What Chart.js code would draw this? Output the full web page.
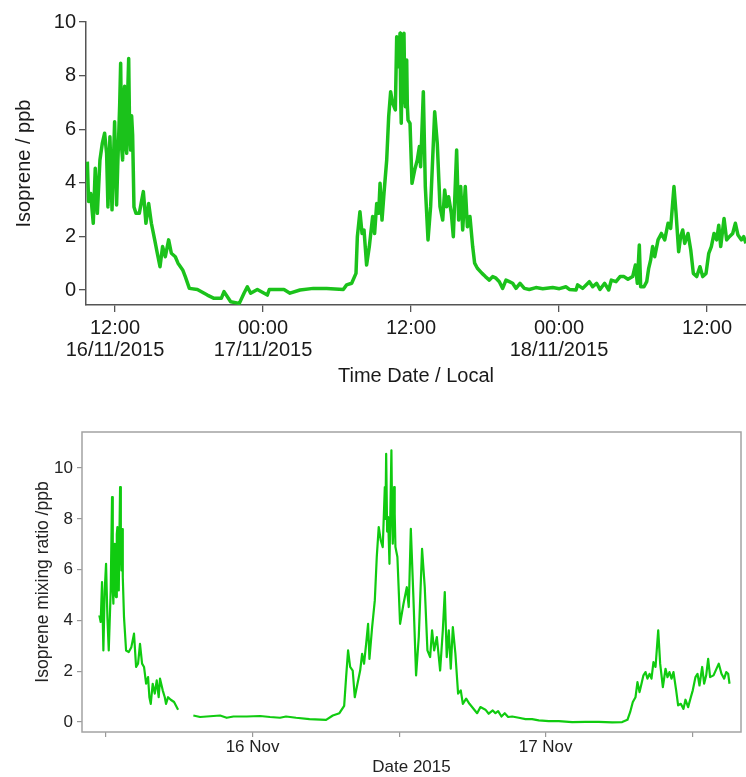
<!DOCTYPE html>
<html>
<head>
<meta charset="utf-8">
<script src="https://cdn.jsdelivr.net/npm/chart.js@4.4.1/dist/chart.umd.min.js"></script>
<style>
  body { margin: 0; background: #fff; }
  canvas { display: block; }
</style>
</head>
<body>
<canvas id="top-chart" width="746" height="390"></canvas>
<canvas id="bottom-chart" width="746" height="387"></canvas>
<script>
// Top panel: hours since 00:00 16/11/2015 (local) and isoprene in ppb
const topHours = [
  9.76, 9.86, 10.03, 10.24, 10.40, 10.57, 10.78, 10.97, 11.16, 11.32, 11.43, 11.59, 11.76, 11.97,
  12.13, 12.22, 12.30, 12.38, 12.46, 12.54, 12.62, 12.70, 12.78, 12.86, 12.95, 13.03, 13.11, 13.19,
  13.27, 13.35, 13.43, 13.54, 13.70, 13.97, 14.30, 14.51,
  14.73, 14.95, 15.22, 15.43, 15.65, 15.86, 16.08, 16.35, 16.57, 16.89, 17.11, 17.49, 17.70, 18.03,
  18.68, 19.49, 20.03, 20.62, 20.84, 21.38, 22.08, 22.46, 22.73, 23.00, 23.54, 24.35, 24.51, 25.70,
  26.19, 27.00, 28.08, 29.16, 30.51, 30.78, 31.19, 31.54, 31.65, 31.86, 32.03, 32.19, 32.40, 32.62,
  32.89, 33.05, 33.22, 33.38, 33.49, 33.65, 33.81, 34.03, 34.19, 34.35, 34.51, 34.73, 34.84, 35.00,
  35.11, 35.16, 35.21, 35.27, 35.32, 35.38, 35.43, 35.49, 35.54, 35.60, 35.65, 35.70, 35.76, 35.92,
  36.08, 36.30, 36.51, 36.68, 36.78, 37.00,
  37.16, 37.38, 37.59, 37.92, 38.13, 38.35, 38.57, 38.73, 38.89, 39.05, 39.27, 39.43, 39.70, 39.86,
  40.03, 40.19, 40.40, 40.57, 40.78, 41.00, 41.16, 41.38,
  41.76, 42.03, 42.35, 42.62, 42.89, 43.16, 43.43, 43.70, 43.97, 44.24, 44.51, 44.84, 45.19, 45.59,
  46.13, 46.68, 47.49, 48.03, 48.57, 48.84, 49.38, 49.51, 49.92, 50.46, 50.73, 51.05, 51.32, 51.70,
  52.03, 52.24, 52.62, 52.95, 53.27, 53.59, 53.97, 54.19, 54.35, 54.51, 54.62, 54.89, 55.11, 55.27,
  55.43, 55.59, 55.76, 56.03, 56.30, 56.57, 56.84, 57.05, 57.32, 57.49, 57.70, 57.86, 58.03, 58.19,
  58.46, 58.68, 58.89, 59.16, 59.43, 59.65, 59.92, 60.14, 60.35, 60.57, 60.78, 60.95, 61.11, 61.38,
  61.59, 61.81, 62.08, 62.30, 62.51, 62.78, 62.97, 63.16
];
const topPpb = [
  4.79, 3.3, 3.6, 2.49, 4.54, 2.86, 4.85, 5.47, 5.85, 5.1, 3.1, 5.72, 2.99, 6.28,
  3.17, 4.6, 5.72, 6.9, 8.46, 5.3, 4.85, 7.0, 7.6, 5.4, 5.1, 7.3, 8.64, 5.8,
  5.22, 6.5, 5.78, 3.1, 2.86, 2.86, 3.67, 2.49,
  3.23, 2.49, 1.87, 1.37, 0.87, 1.62, 1.24, 1.87, 1.37, 1.24, 1.0, 0.75, 0.5, 0.06,
  0.02, -0.19, -0.31, -0.31, -0.06, -0.44, -0.5, -0.12, 0.12, -0.12, 0.02, -0.19, 0.02, 0.02,
  -0.12, 0, 0.06, 0.06, 0.02, 0.19, 0.25, 0.62, 1.99, 2.92, 2.11, 2.24, 0.93, 1.62,
  2.74, 2.11, 3.23, 2.86, 3.98, 2.61, 3.61, 4.85, 6.47, 7.4, 6.97, 6.72, 9.45, 8.33,
  9.58, 7.2, 6.22, 8.0, 8.71, 7.0, 9.58, 7.5, 6.84, 8.0, 8.58, 6.9, 6.34, 6.22,
  3.98, 4.48, 4.85, 5.35, 4.6, 7.4,
  3.86, 1.87, 3.11, 6.65, 5.47, 3.11, 2.61, 3.73, 3.11, 3.48, 2.86, 1.99, 5.22, 2.61,
  3.86, 2.24, 3.86, 2.36, 2.74, 1.62, 1.0, 0.81,
  0.62, 0.5, 0.37, 0.5, 0.44, 0.31, 0.06, 0.37, 0.31, 0.25, 0.06, 0.25, 0.06, 0.02,
  0.09, 0.05, 0.09, 0.05, 0.12, 0.02, 0, 0.19, 0.06, 0.31, 0.12, 0.25, 0.02, 0.25,
  0, 0.37, 0.31, 0.5, 0.5, 0.4, 0.5, 0.93, 0.25, 1.68, 0.12, 0.12, 0.31, 0.81,
  1.12, 1.62, 1.24, 1.87, 2.11, 1.87, 2.49, 2.3, 3.86, 2.86, 1.43, 1.99, 2.24, 1.74,
  2.11, 1.49, 0.62, 0.5, 0.87, 0.5, 0.62, 1.37, 1.62, 2.11, 1.87, 2.42, 1.62, 2.67,
  1.87, 1.99, 2.11, 2.49, 2.05, 1.87, 1.99, 1.74
];
const topTickHours = [12, 24, 36, 48, 60];
const topTickLabels = [['12:00', '16/11/2015'], ['00:00', '17/11/2015'], '12:00', ['00:00', '18/11/2015'], '12:00'];
const topYTicks = [0, 2, 4, 6, 8, 10];

// Bottom panel: hours since 00:00 15 Nov (as labelled on that axis); null = gap in the record
const bottomHours = [
  11.45, 11.56, 11.67, 11.78, 11.89, 12.00, 12.11, 12.22, 12.38, 12.49, 12.55, 12.60, 12.66, 12.71,
  12.77, 12.82, 12.88, 12.93,
  13.04, 13.10, 13.15, 13.21, 13.26, 13.32, 13.37, 13.47, 13.64, 13.86, 14.07, 14.29, 14.46, 14.62,
  14.78, 14.95, 15.11,
  15.28, 15.44, 15.55, 15.66, 15.82, 15.99, 16.15, 16.31, 16.42, 16.64, 16.81, 16.91, 17.08, 17.30,
  17.57, 17.90, 18.50,
  19.15, 19.70, 20.25, 20.79, 21.34, 21.88, 22.43, 23.52, 24.61, 25.43, 26.25,
  26.74, 27.56, 28.66, 30.02, 30.57, 31.11, 31.50, 31.66, 31.82, 31.99, 32.20, 32.37, 32.59, 32.81,
  32.97, 33.13, 33.30, 33.46, 33.57, 33.79, 34.01, 34.17, 34.33, 34.50, 34.66, 34.83, 34.88, 34.94,
  35.02, 35.10,
  35.21, 35.37, 35.43, 35.48, 35.54, 35.59, 35.64, 35.70, 35.86, 36.08, 36.36, 36.63, 36.79, 36.96,
  37.17, 37.39, 37.61,
  37.88, 38.10, 38.32, 38.54, 38.70, 38.87, 39.09, 39.36, 39.58, 39.74, 39.90, 40.07, 40.23, 40.40,
  40.61, 40.83, 41.05, 41.22, 41.49, 41.76,
  42.39, 42.66, 43.07, 43.34, 43.67, 43.89, 44.11, 44.38, 44.65, 44.93, 45.26, 45.80, 46.35, 46.89,
  47.44, 48.26, 49.08, 50.17, 51.26, 52.35, 53.45, 54.27, 54.70, 54.92, 55.14, 55.36, 55.52, 55.69,
  55.85, 56.01, 56.18, 56.34, 56.51, 56.67, 56.83, 57.00, 57.22, 57.38, 57.60, 57.82, 57.98, 58.14,
  58.31, 58.47, 58.69, 58.85, 59.07, 59.29, 59.45, 59.67, 59.89, 60.05, 60.27, 60.44, 60.60, 60.82,
  60.98, 61.15, 61.31, 61.47, 61.75, 62.18, 62.40, 62.62, 62.79, 62.95, 63.06
];
const bottomPpb = [
  4.2, 3.94, 5.51, 2.82, 5.18, 6.23, 4.13, 2.82, 5.18, 8.86, 5.2, 4.66, 6.8, 7.02,
  5.0, 4.92, 7.4, 7.68,
  5.18, 7.5, 9.25, 7.0, 5.97, 7.6, 5.71, 4.13, 2.82, 2.76, 2.95, 3.48, 2.17, 2.3,
  3.08, 2.3, 2.17,
  1.51, 1.77, 0.98, 0.72, 1.51, 1.12, 1.64, 0.98, 1.71, 1.25, 0.98, 0.72, 0.98, 0.88,
  0.79, 0.49, null,
  0.26, 0.2, 0.22, 0.24, 0.26, 0.17, 0.22, 0.22, 0.24, 0.2, 0.17,
  0.22, 0.17, 0.12, 0.09, 0.26, 0.35, 0.64, 1.77, 2.82, 2.17, 2.03, 0.98, 1.51, 2.03,
  2.69, 2.3, 3.08, 3.87, 2.49, 3.74, 4.79, 6.5, 7.68, 7.15, 6.89, 9.25, 8.0, 10.56,
  7.5, 8.07,
  6.23, 10.7, 8.0, 7.02, 7.8, 9.25, 8.2, 6.89, 6.5, 3.87, 4.66, 5.31, 4.53, 7.61,
  4.92, 1.84, 3.35,
  6.82, 5.31, 2.82, 2.56, 3.61, 2.82, 3.35, 2.03, 3.61, 5.12, 2.56, 3.61, 2.1, 3.74,
  2.69, 1.12, 1.25, 0.72, 0.92, 0.72,
  0.35, 0.59, 0.49, 0.33, 0.46, 0.35, 0.43, 0.22, 0.35, 0.2, 0.22, 0.17, 0.12, 0.12,
  0.07, 0.04, 0.04, 0, 0.01, 0.01, -0.01, 0, 0.09, 0.39, 0.79, 0.98, 1.57, 1.18,
  1.51, 1.84, 1.97, 1.71, 1.9, 1.71, 2.36, 2.17, 3.61, 2.3, 1.38, 2.1, 1.77, 1.97,
  1.71, 1.97, 1.25, 0.66, 0.72, 0.52, 0.88, 0.59, 0.98, 1.25, 1.77, 1.9, 1.44, 2.17,
  1.51, 1.84, 2.49, 1.77, 1.84, 2.3, 1.9, 1.71, 1.97, 1.9, 1.51
];
const bottomTickHours = [12, 24, 36, 48, 60];
const bottomTickLabels = ['', '16 Nov', '', '17 Nov', ''];
const bottomYTicks = [0, 2, 4, 6, 8, 10];

const FONT = '"Liberation Sans", Arial, sans-serif';

function toPoints(xs, ys) {
  return xs.map((x, i) => ({ x: x, y: ys[i] }));
}

// draws the grey frame around the plot area of the lower panel
const frameBox = {
  id: 'frameBox',
  afterDraw(chart) {
    const a = chart.chartArea;
    const ctx = chart.ctx;
    ctx.save();
    ctx.strokeStyle = '#a3a3a3';
    ctx.lineWidth = 1.5;
    ctx.strokeRect(a.left, a.top, a.right - a.left, a.bottom - a.top);
    ctx.restore();
  }
};

// Upper panel
new Chart(document.getElementById('top-chart'), {
  type: 'line',
  data: {
    datasets: [{
      data: toPoints(topHours, topPpb),
      borderColor: '#1bc21b',
      borderWidth: 3.5,
      pointRadius: 0,
      tension: 0,
      borderJoinStyle: 'round'
    }]
  },
  options: {
    responsive: false,
    animation: false,
    devicePixelRatio: 1,
    layout: { padding: { top: 22, right: 0, left: 0, bottom: 0 } },
    plugins: { legend: { display: false }, tooltip: { enabled: false } },
    scales: {
      x: {
        type: 'linear',
        min: 9.65,
        max: 63.16,
        afterBuildTicks: (scale) => { scale.ticks = topTickHours.map(v => ({ value: v })); },
        afterFit: (scale) => { scale.height = 85; },
        grid: { display: true, drawOnChartArea: false, drawTicks: true, tickLength: 7, color: '#555', lineWidth: 1.3 },
        border: { display: true, color: '#555', width: 1.5 },
        ticks: {
          autoSkip: false,
          maxRotation: 0,
          padding: 6,
          color: '#1a1a1a',
          font: { family: FONT, size: 20, lineHeight: 1.085 },
          callback: (value) => {
            const i = topTickHours.indexOf(value);
            return i >= 0 ? topTickLabels[i] : '';
          }
        },
        title: {
          display: true,
          text: 'Time Date / Local',
          color: '#1a1a1a',
          font: { family: FONT, size: 20, lineHeight: 1.2 },
          padding: { top: 0, bottom: 2 }
        }
      },
      y: {
        min: -0.56,
        max: 10,
        afterBuildTicks: (scale) => { scale.ticks = topYTicks.map(v => ({ value: v })); },
        afterFit: (scale) => { scale.width = 86; },
        grid: { display: true, drawOnChartArea: false, drawTicks: true, tickLength: 7, color: '#555', lineWidth: 1.3 },
        border: { display: true, color: '#555', width: 1.5 },
        ticks: {
          padding: 3,
          color: '#1a1a1a',
          font: { family: FONT, size: 20 }
        },
        title: {
          display: true,
          text: 'Isoprene / ppb',
          color: '#1a1a1a',
          font: { family: FONT, size: 20, lineHeight: 1.2 },
          padding: { top: 12, bottom: 0 }
        }
      }
    }
  }
});

// Lower panel
new Chart(document.getElementById('bottom-chart'), {
  type: 'line',
  data: {
    datasets: [{
      data: toPoints(bottomHours, bottomPpb),
      borderColor: '#10cb10',
      borderWidth: 2.2,
      pointRadius: 0,
      tension: 0,
      spanGaps: false,
      borderJoinStyle: 'round'
    }]
  },
  options: {
    responsive: false,
    animation: false,
    devicePixelRatio: 1,
    layout: { padding: { top: 42, right: 5, left: 0, bottom: 0 } },
    plugins: { legend: { display: false }, tooltip: { enabled: false } },
    scales: {
      x: {
        type: 'linear',
        min: 10.03,
        max: 64.0,
        afterBuildTicks: (scale) => { scale.ticks = bottomTickHours.map(v => ({ value: v })); },
        afterFit: (scale) => { scale.height = 45; },
        grid: { display: true, drawOnChartArea: false, drawTicks: true, tickLength: 5, color: '#999', lineWidth: 1.2 },
        border: { display: false },
        ticks: {
          autoSkip: false,
          maxRotation: 0,
          padding: 0,
          color: '#222',
          font: { family: FONT, size: 17 },
          callback: (value) => {
            const i = bottomTickHours.indexOf(value);
            return i >= 0 ? bottomTickLabels[i] : '';
          }
        },
        title: {
          display: true,
          text: 'Date 2015',
          color: '#222',
          font: { family: FONT, size: 17, lineHeight: 1.1 },
          padding: { top: 0, bottom: 0 }
        }
      },
      y: {
        min: -0.39,
        max: 11.42,
        afterBuildTicks: (scale) => { scale.ticks = bottomYTicks.map(v => ({ value: v })); },
        afterFit: (scale) => { scale.width = 82; },
        grid: { display: true, drawOnChartArea: false, drawTicks: true, tickLength: 5, color: '#999', lineWidth: 1.2 },
        border: { display: false },
        ticks: {
          padding: 4,
          color: '#222',
          font: { family: FONT, size: 17 }
        },
        title: {
          display: true,
          text: 'Isoprene mixing ratio /ppb',
          color: '#222',
          font: { family: FONT, size: 17.5, lineHeight: 1.2 },
          padding: { top: 33, bottom: 0 }
        }
      }
    }
  },
  plugins: [frameBox]
});
</script>
</body>
</html>
